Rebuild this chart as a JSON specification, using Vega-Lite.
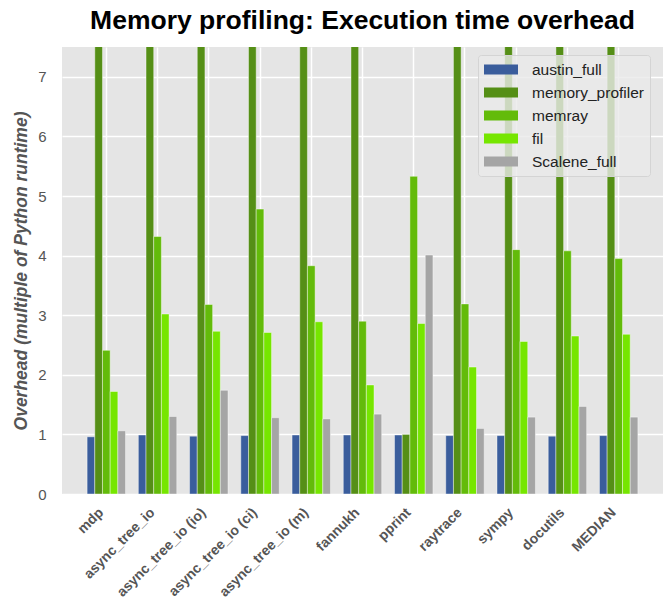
{
  "$schema": "https://vega.github.io/schema/vega-lite/v6.json",
  "autosize": {"type": "none"},
  "padding": {"left": 62, "top": 47, "right": 8, "bottom": 112},
  "width": 601,
  "height": 447,
  "background": "white",
  "title": {
    "text": "Memory profiling: Execution time overhead",
    "font": "Liberation Sans",
    "fontSize": 26.5,
    "fontWeight": "bold",
    "color": "black",
    "anchor": "middle",
    "offset": 13
  },
  "config": {
    "view": {"fill": "#e5e5e5", "stroke": null},
    "font": "Liberation Sans"
  },
  "data": {
    "values": [
      {"benchmark": "mdp", "profiler": "austin_full", "value": 0.96},
      {"benchmark": "mdp", "profiler": "memory_profiler", "value": 12.0},
      {"benchmark": "mdp", "profiler": "memray", "value": 2.41},
      {"benchmark": "mdp", "profiler": "fil", "value": 1.72},
      {"benchmark": "mdp", "profiler": "Scalene_full", "value": 1.06},
      {"benchmark": "async_tree_io", "profiler": "austin_full", "value": 0.99},
      {"benchmark": "async_tree_io", "profiler": "memory_profiler", "value": 11.0},
      {"benchmark": "async_tree_io", "profiler": "memray", "value": 4.32},
      {"benchmark": "async_tree_io", "profiler": "fil", "value": 3.02},
      {"benchmark": "async_tree_io", "profiler": "Scalene_full", "value": 1.30},
      {"benchmark": "async_tree_io (io)", "profiler": "austin_full", "value": 0.97},
      {"benchmark": "async_tree_io (io)", "profiler": "memory_profiler", "value": 10.5},
      {"benchmark": "async_tree_io (io)", "profiler": "memray", "value": 3.18},
      {"benchmark": "async_tree_io (io)", "profiler": "fil", "value": 2.73},
      {"benchmark": "async_tree_io (io)", "profiler": "Scalene_full", "value": 1.74},
      {"benchmark": "async_tree_io (ci)", "profiler": "austin_full", "value": 0.98},
      {"benchmark": "async_tree_io (ci)", "profiler": "memory_profiler", "value": 11.5},
      {"benchmark": "async_tree_io (ci)", "profiler": "memray", "value": 4.78},
      {"benchmark": "async_tree_io (ci)", "profiler": "fil", "value": 2.71},
      {"benchmark": "async_tree_io (ci)", "profiler": "Scalene_full", "value": 1.28},
      {"benchmark": "async_tree_io (m)", "profiler": "austin_full", "value": 0.99},
      {"benchmark": "async_tree_io (m)", "profiler": "memory_profiler", "value": 10.8},
      {"benchmark": "async_tree_io (m)", "profiler": "memray", "value": 3.83},
      {"benchmark": "async_tree_io (m)", "profiler": "fil", "value": 2.89},
      {"benchmark": "async_tree_io (m)", "profiler": "Scalene_full", "value": 1.26},
      {"benchmark": "fannukh", "profiler": "austin_full", "value": 0.99},
      {"benchmark": "fannukh", "profiler": "memory_profiler", "value": 9.5},
      {"benchmark": "fannukh", "profiler": "memray", "value": 2.90},
      {"benchmark": "fannukh", "profiler": "fil", "value": 1.83},
      {"benchmark": "fannukh", "profiler": "Scalene_full", "value": 1.34},
      {"benchmark": "pprint", "profiler": "austin_full", "value": 0.99},
      {"benchmark": "pprint", "profiler": "memory_profiler", "value": 1.0},
      {"benchmark": "pprint", "profiler": "memray", "value": 5.33},
      {"benchmark": "pprint", "profiler": "fil", "value": 2.86},
      {"benchmark": "pprint", "profiler": "Scalene_full", "value": 4.01},
      {"benchmark": "raytrace", "profiler": "austin_full", "value": 0.98},
      {"benchmark": "raytrace", "profiler": "memory_profiler", "value": 9.8},
      {"benchmark": "raytrace", "profiler": "memray", "value": 3.19},
      {"benchmark": "raytrace", "profiler": "fil", "value": 2.13},
      {"benchmark": "raytrace", "profiler": "Scalene_full", "value": 1.10},
      {"benchmark": "sympy", "profiler": "austin_full", "value": 0.98},
      {"benchmark": "sympy", "profiler": "memory_profiler", "value": 10.2},
      {"benchmark": "sympy", "profiler": "memray", "value": 4.10},
      {"benchmark": "sympy", "profiler": "fil", "value": 2.56},
      {"benchmark": "sympy", "profiler": "Scalene_full", "value": 1.29},
      {"benchmark": "docutils", "profiler": "austin_full", "value": 0.97},
      {"benchmark": "docutils", "profiler": "memory_profiler", "value": 9.9},
      {"benchmark": "docutils", "profiler": "memray", "value": 4.08},
      {"benchmark": "docutils", "profiler": "fil", "value": 2.65},
      {"benchmark": "docutils", "profiler": "Scalene_full", "value": 1.47},
      {"benchmark": "MEDIAN", "profiler": "austin_full", "value": 0.98},
      {"benchmark": "MEDIAN", "profiler": "memory_profiler", "value": 10.5},
      {"benchmark": "MEDIAN", "profiler": "memray", "value": 3.95},
      {"benchmark": "MEDIAN", "profiler": "fil", "value": 2.68},
      {"benchmark": "MEDIAN", "profiler": "Scalene_full", "value": 1.29}
    ]
  },
  "mark": {"type": "bar", "clip": true, "stroke": "white", "strokeWidth": 0.6, "strokeOpacity": 0.7},
  "encoding": {
    "x": {
      "field": "benchmark",
      "type": "nominal",
      "sort": null,
      "scale": {"paddingInner": 0.25, "paddingOuter": 0.49},
      "axis": {
        "title": null,
        "grid": true,
        "gridColor": "white",
        "gridWidth": 1.5,
        "bandPosition": 0.5,
        "domain": false,
        "ticks": false,
        "labelAngle": -45,
        "labelAlign": "right",
        "labelBaseline": "bottom",
        "labelPadding": 21,
        "labelFontSize": 14,
        "labelFontWeight": "bold",
        "labelColor": "#555555",
        "labelFont": "Liberation Sans",
        "labelLimit": 300
      }
    },
    "xOffset": {
      "field": "profiler",
      "type": "nominal",
      "sort": ["austin_full", "memory_profiler", "memray", "fil", "Scalene_full"],
      "scale": {"paddingInner": 0, "paddingOuter": 0}
    },
    "y": {
      "field": "value",
      "type": "quantitative",
      "scale": {"domain": [0, 7.5], "nice": false, "zero": true},
      "axis": {
        "title": "Overhead (multiple of Python runtime)",
        "titleFont": "Liberation Sans",
        "titleFontSize": 17.5,
        "titleFontWeight": "bold",
        "titleFontStyle": "italic",
        "titleColor": "#555555",
        "titlePadding": 7,
        "values": [0, 1, 2, 3, 4, 5, 6, 7],
        "grid": true,
        "gridColor": "white",
        "gridWidth": 1.5,
        "domain": false,
        "ticks": false,
        "labelPadding": 16,
        "labelFontSize": 15,
        "labelColor": "#555555",
        "labelFont": "Liberation Sans"
      }
    },
    "color": {
      "field": "profiler",
      "type": "nominal",
      "sort": ["austin_full", "memory_profiler", "memray", "fil", "Scalene_full"],
      "scale": {
        "domain": ["austin_full", "memory_profiler", "memray", "fil", "Scalene_full"],
        "range": ["#3a5d9c", "#558f16", "#63bb0a", "#76e600", "#a5a5a5"]
      },
      "legend": {
        "title": null,
        "orient": "none",
        "legendX": 416,
        "legendY": 8,
        "padding": 6,
        "fillColor": "rgba(234,234,234,0.8)",
        "strokeColor": "#d4d4d4",
        "cornerRadius": 3,
        "symbolType": "M-1,-0.6H3V0.6H-1Z",
        "symbolSize": 289,
        "symbolStrokeWidth": 0,
        "symbolOpacity": 1,
        "labelOffset": 31,
        "labelFontSize": 15.5,
        "labelColor": "#222222",
        "labelFont": "Liberation Sans",
        "rowPadding": 6
      }
    }
  }
}
